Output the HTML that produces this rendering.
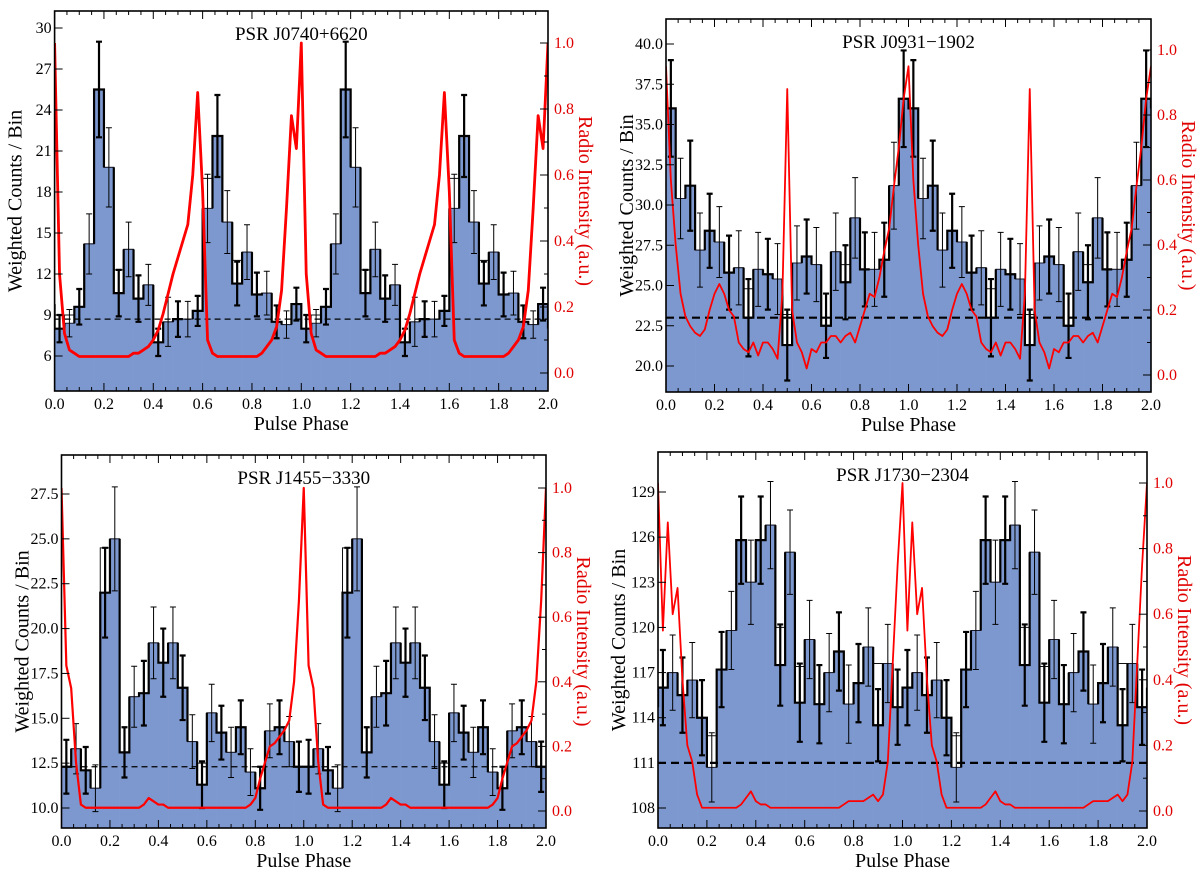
<!DOCTYPE html>
<html><head><meta charset="utf-8">
<style>
html,body{margin:0;padding:0;background:#fff;}
svg{display:block;}
text{font-family:"Liberation Serif",serif;}
</style></head>
<body>
<svg id="fig" width="1200" height="880" viewBox="0 0 1200 880" xmlns="http://www.w3.org/2000/svg"></svg>
<script>
// ---- data (one rotation; plotted twice over phase 0-2) ----
const binWidth = 0.04;
const radioStep = 0.02;

const countsJ0740 = [8.0,8.4,9.6,14.2,25.5,19.8,10.6,13.8,10.2,11.2,7.0,8.5,8.7,8.7,9.3,16.8,22.1,15.8,11.3,13.6,10.5,10.6,8.5,8.3,9.8];
const altJ0740    = [8.0,9.0,9.6,14.2,25.5,19.8,12.3,13.8,10.2,11.2,7.0,8.5,8.7,8.7,9.3,19.0,22.1,15.8,13.0,13.6,10.5,10.6,8.5,8.3,9.8];
const errJ0740    = [1.0,1.0,1.3,2.2,3.5,2.9,1.7,2.0,1.7,1.5,1.0,1.8,1.3,1.3,1.1,2.5,3.0,2.3,1.6,2.0,1.6,1.6,1.2,1.0,1.2];
const radioJ0740  = [1.0,0.3,0.12,0.07,0.06,0.05,0.05,0.05,0.05,0.05,0.05,0.05,0.05,0.05,0.05,0.05,0.06,0.06,0.07,0.08,0.1,0.13,0.18,0.24,0.3,
                     0.35,0.4,0.45,0.6,0.85,0.55,0.1,0.06,0.05,0.05,0.05,0.05,0.05,0.05,0.05,0.05,0.05,0.06,0.08,0.1,0.14,0.25,0.5,0.78,0.68];

const countsJ0931 = [36.0,30.4,31.2,27.2,28.4,27.7,25.8,26.1,23.0,26.0,25.7,25.4,21.3,26.4,26.8,26.3,22.5,27.1,25.2,29.2,26.0,26.0,26.6,31.2,36.6];
const altJ0931    = [36.0,30.4,31.2,27.2,28.4,27.7,25.8,26.1,24.8,26.0,25.7,25.4,23.2,26.4,26.8,26.3,22.5,27.1,26.3,29.2,26.0,26.0,26.6,31.2,36.6];
const errJ0931    = [3.0,2.5,2.8,2.3,2.3,2.2,2.3,2.3,2.4,2.3,2.2,2.2,2.2,2.3,2.3,2.3,2.0,2.4,2.3,2.5,2.3,2.3,2.3,2.7,3.0];
const radioJ0931  = [0.95,0.6,0.4,0.25,0.18,0.15,0.13,0.12,0.14,0.2,0.25,0.28,0.25,0.2,0.18,0.1,0.08,0.07,0.1,0.06,0.1,0.1,0.08,0.05,0.25,
                     0.88,0.2,0.1,0.07,0.02,0.08,0.07,0.1,0.1,0.12,0.12,0.1,0.12,0.13,0.1,0.15,0.2,0.25,0.24,0.3,0.38,0.45,0.58,0.7,0.85];

const countsJ1455 = [12.3,13.3,12.1,11.1,22.0,25.0,13.1,16.2,16.4,19.2,18.1,19.2,16.7,13.7,11.3,15.3,14.2,13.1,14.5,12.0,11.1,14.3,14.5,13.7,12.3];
const altJ1455    = [12.3,13.3,12.1,11.1,24.5,25.0,13.1,16.2,16.4,19.2,18.1,19.2,16.7,13.7,12.5,15.3,14.2,13.1,14.5,12.0,11.1,14.3,14.5,13.7,12.3];
const errJ1455    = [1.5,1.4,1.3,1.3,2.5,2.9,1.4,1.7,1.8,2.0,1.9,2.0,1.8,1.5,1.3,1.6,1.5,1.4,1.5,1.3,1.2,1.5,1.5,1.4,1.4];
const radioJ1455  = [1.0,0.45,0.38,0.15,0.02,0.01,0.01,0.01,0.01,0.01,0.01,0.01,0.01,0.01,0.01,0.01,0.01,0.02,0.04,0.03,0.02,0.02,0.01,0.01,0.01,
                     0.01,0.01,0.01,0.01,0.01,0.01,0.01,0.01,0.01,0.01,0.01,0.01,0.01,0.01,0.02,0.04,0.1,0.15,0.2,0.21,0.23,0.25,0.28,0.4,0.65];

const countsJ1730 = [116.0,117.0,115.5,116.5,114.0,110.7,117.2,119.8,125.8,123.0,125.8,126.8,117.5,125.0,115.0,119.2,114.9,117.0,118.4,114.9,116.3,118.7,113.5,117.6,114.7];
const altJ1730    = [116.0,117.0,115.5,116.5,114.0,112.8,117.2,119.8,125.8,123.0,125.8,126.8,120.0,125.0,117.4,119.2,114.9,117.0,118.4,114.9,116.3,118.7,117.6,117.6,114.7];
const errJ1730    = [2.5,2.5,2.5,2.5,2.5,2.3,2.5,2.6,2.9,2.8,2.9,2.9,2.7,2.8,2.6,2.6,2.6,2.6,2.6,2.6,2.6,2.6,2.4,2.6,2.5];
const radioJ1730  = [1.0,0.55,0.88,0.6,0.68,0.4,0.2,0.15,0.05,0.01,0.01,0.01,0.01,0.01,0.01,0.01,0.01,0.02,0.04,0.06,0.03,0.02,0.02,0.01,0.01,
                     0.01,0.01,0.01,0.01,0.01,0.01,0.01,0.01,0.01,0.01,0.01,0.01,0.01,0.02,0.03,0.03,0.03,0.03,0.04,0.05,0.03,0.05,0.15,0.45,0.75];

const ticksJ0740 = [6,9,12,15,18,21,24,27,30];
const ticksJ0931 = [20.0,22.5,25.0,27.5,30.0,32.5,35.0,37.5,40.0];
const ticksJ1455 = [10.0,12.5,15.0,17.5,20.0,22.5,25.0,27.5];
const ticksJ1730 = [108,111,114,117,120,123,126,129];
const phaseTicks = [0.0,0.2,0.4,0.6,0.8,1.0,1.2,1.4,1.6,1.8,2.0];
const radioTicks = [0.0,0.2,0.4,0.6,0.8,1.0];
const baseJ0740 = 8.7, baseJ0931 = 23.0, baseJ1455 = 12.3, baseJ1730 = 111.0;

// ---- layout ----
const panels = [
 {id:'j0740', title:'PSR J0740+6620', counts:countsJ0740, alt:altJ0740, err:errJ0740, radio:radioJ0740, ticks:ticksJ0740, dec:0, base:baseJ0740, thickDash:false,
  x0:54.6, x1:548, y0:11, y1:391, lv1:30, lp1:28, lv2:6, lp2:356, rp1:43, rp0:373, radioW:2.8},
 {id:'j0931', title:'PSR J0931\u22121902', counts:countsJ0931, alt:altJ0931, err:errJ0931, radio:radioJ0931, ticks:ticksJ0931, dec:1, base:baseJ0931, thickDash:true,
  x0:666, x1:1151, y0:19, y1:392, lv1:40, lp1:44, lv2:20, lp2:366, rp1:50, rp0:375, radioW:1.8},
 {id:'j1455', title:'PSR J1455\u22123330', counts:countsJ1455, alt:altJ1455, err:errJ1455, radio:radioJ1455, ticks:ticksJ1455, dec:1, base:baseJ1455, thickDash:false,
  x0:61.5, x1:546, y0:455, y1:828, lv1:27.5, lp1:494, lv2:10, lp2:808, rp1:488, rp0:811, radioW:2.2},
 {id:'j1730', title:'PSR J1730\u22122304', counts:countsJ1730, alt:altJ1730, err:errJ1730, radio:radioJ1730, ticks:ticksJ1730, dec:0, base:baseJ1730, thickDash:true,
  x0:658, x1:1147, y0:452, y1:828, lv1:129, lp1:492, lv2:108, lp2:808, rp1:483, rp0:811, radioW:1.8}
];

const NS = 'http://www.w3.org/2000/svg';
const fig = document.getElementById('fig');
function mk(tag, attrs, parent){ const e=document.createElementNS(NS,tag); for(const k in attrs) e.setAttribute(k,attrs[k]); (parent||fig).appendChild(e); return e; }

function stepPath(vals, n, xs, yl){
  let d='';
  for(let c=0;c<2;c++) for(let i=0;i<n;i++){
    const a=xs(c+i*binWidth), b=xs(c+(i+1)*binWidth), y=yl(vals[i]);
    d += (d?'L':'M') + a + ',' + y + 'L' + b + ',' + y;
  }
  return d;
}

panels.forEach(p=>{
  const g = mk('g',{});
  
  
  const xs = ph => p.x0 + (ph/2)*(p.x1-p.x0);
  const yl = v => p.lp1 + (v-p.lv1)*(p.lp2-p.lp1)/(p.lv2-p.lv1);
  const yr = v => p.rp0 + v*(p.rp1-p.rp0);
  const yBot = p.y1;
  const clipId = 'clip-'+p.id;
  const cp = mk('clipPath',{id:clipId}, g);
  mk('rect',{x:p.x0,y:p.y0,width:p.x1-p.x0,height:p.y1-p.y0}, cp);
  const inner = mk('g',{'clip-path':'url(#'+clipId+')'}, g);
  const n = p.counts.length;
  // white (alternate) bars
  for(let c=0;c<2;c++) for(let i=0;i<n;i++){
    const a=xs(c+i*binWidth), b=xs(c+(i+1)*binWidth);
    const r = mk('rect',{x:a,y:yl(p.alt[i]),width:b-a+0.3,height:yBot-yl(p.alt[i]),fill:'#fff'}, inner);
    
    
  }
  const ao = mk('path',{d:stepPath(p.alt,n,xs,yl),fill:'none',stroke:'#111','stroke-width':1}, inner);
  
  
  // blue bars
  for(let c=0;c<2;c++) for(let i=0;i<n;i++){
    const a=xs(c+i*binWidth), b=xs(c+(i+1)*binWidth);
    const r = mk('rect',{x:a,y:yl(p.counts[i]),width:b-a+0.3,height:yBot-yl(p.counts[i]),fill:'#7d98cf'}, inner);
    
    
  }
  const bo = mk('path',{d:stepPath(p.counts,n,xs,yl),fill:'none',stroke:'#1a1a2a','stroke-width':1}, inner);
  
  
  // thick step outline on alternating bins
  let d='';
  for(let c=0;c<2;c++) for(let i=0;i<n;i++){
    if(i%2===0){ const a=xs(c+i*binWidth), b=xs(c+(i+1)*binWidth), y=yl(p.counts[i]);
      const prev = p.counts[(i+n-1)%n], next=p.counts[(i+1)%n];
      d += `M${a},${yl(prev)}L${a},${y}L${b},${y}L${b},${yl(next)}`; }
  }
  const st = mk('path',{d:d,fill:'none',stroke:'#000','stroke-width':2.2}, inner);
  
  
  // error bars
  for(let c=0;c<2;c++) for(let i=0;i<n;i++){
    const xm = xs(c+(i+0.5)*binWidth), v=p.counts[i], e=p.err[i];
    const w = (i%2===0)?2.2:1;
    const eb = mk('path',{d:`M${xm},${yl(v-e)}L${xm},${yl(v+e)}M${xm-3},${yl(v+e)}L${xm+3},${yl(v+e)}M${xm-3},${yl(v-e)}L${xm+3},${yl(v-e)}`,stroke:'#000','stroke-width':w,fill:'none'}, inner);
    
    
  }
  // baseline
  const bl = mk('line',{x1:p.x0,x2:p.x1,y1:yl(p.base),y2:yl(p.base),stroke:'#000','stroke-width':p.thickDash?2.2:1.2,'stroke-dasharray':p.thickDash?'8,5':'6,4'}, inner);
  
  
  // radio profile
  let rd='';
  const m = p.radio.length;
  for(let c=0;c<2;c++) for(let i=0;i<m;i++){
    const ph = c + i*radioStep;
    rd += (rd?'L':'M') + xs(ph) + ',' + yr(p.radio[i]);
  }
  rd += 'L' + xs(2) + ',' + yr(p.radio[0]);
  const rl = mk('path',{d:rd,fill:'none',stroke:'#ff0000','stroke-width':p.radioW,'stroke-linejoin':'round'}, inner);
  
  
  // frame
  const fr = mk('rect',{x:p.x0,y:p.y0,width:p.x1-p.x0,height:p.y1-p.y0,fill:'none',stroke:'#000','stroke-width':1.6}, g);
  
  
  // x ticks
  for(let k=0;k<=40;k++){
    const ph=k*0.05, x=xs(ph), major=(k%4===0), L=major?8:4;
    mk('line',{x1:x,x2:x,y1:p.y1,y2:p.y1-L,stroke:'#000','stroke-width':1}, g);
    mk('line',{x1:x,x2:x,y1:p.y0,y2:p.y0+L,stroke:'#000','stroke-width':1}, g);
  }
  phaseTicks.forEach(t=>{
    const tx = mk('text',{x:xs(t),y:p.y1+18,'text-anchor':'middle','font-size':16}, g);
    tx.textContent = t.toFixed(1);
    
    
  });
  // left ticks
  p.ticks.forEach(t=>{
    const y=yl(t);
    mk('line',{x1:p.x0,x2:p.x0+8,y1:y,y2:y,stroke:'#000','stroke-width':1}, g);
    const tx = mk('text',{x:p.x0-3,y:y+5,'text-anchor':'end','font-size':16}, g);
    tx.textContent = t.toFixed(p.dec);
    
    
  });
  // right ticks
  for(let k=0;k<=10;k++){
    const v=k*0.1, y=yr(v), L=(k%2===0)?8:4;
    mk('line',{x1:p.x1,x2:p.x1-L,y1:y,y2:y,stroke:'#000','stroke-width':1}, g);
  }
  radioTicks.forEach(t=>{
    const tx = mk('text',{x:p.x1+6,y:yr(t)+5,'font-size':16,fill:'#e00000'}, g);
    tx.textContent = t.toFixed(1);
    
    
  });
  // titles
  const cx=(p.x0+p.x1)/2, cy=(p.y0+p.y1)/2;
  const tt = mk('text',{x:cx,y:p.y0+29,'text-anchor':'middle','font-size':19}, g);
  tt.textContent = p.title;
  
  
  const xl = mk('text',{x:cx,y:p.y1+39,'text-anchor':'middle','font-size':20}, g);
  xl.textContent = 'Pulse Phase';
  
  
  const ylab = mk('text',{x:0,y:0,'text-anchor':'middle','font-size':20,transform:`translate(${p.x0-33},${cy}) rotate(-90)`}, g);
  ylab.textContent = 'Weighted Counts / Bin';
  
  
  const rlab = mk('text',{x:0,y:0,'text-anchor':'middle','font-size':20,fill:'#e00000',transform:`translate(${p.x1+31},${cy}) rotate(90)`}, g);
  rlab.textContent = 'Radio Intensity (a.u.)';
  
  
});
</script>
</body></html>
